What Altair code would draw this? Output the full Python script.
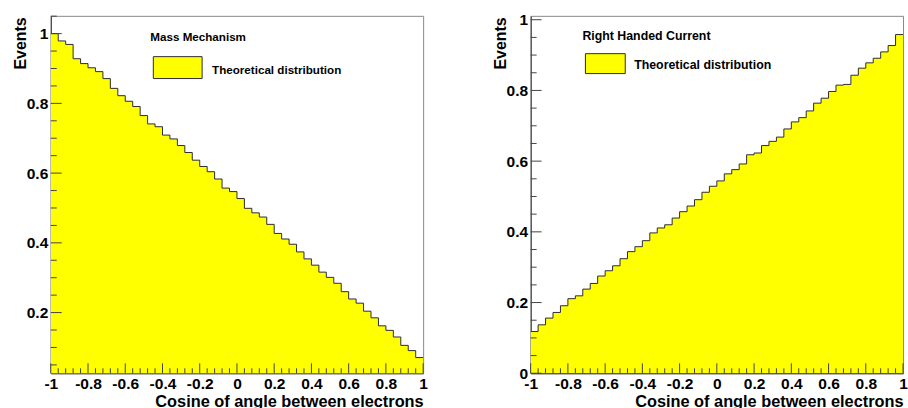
import altair as alt
import pandas as pd

# ---------------- data ----------------
N_BINS = 50
X_MIN, X_MAX = -1.0, 1.0

mass_mechanism = [1.000, 0.979, 0.969, 0.928, 0.914, 0.902, 0.891, 0.871, 0.843, 0.822,
                  0.806, 0.791, 0.765, 0.741, 0.733, 0.709, 0.698, 0.679, 0.659, 0.637,
                  0.619, 0.604, 0.583, 0.557, 0.547, 0.527, 0.499, 0.486, 0.474, 0.453,
                  0.427, 0.411, 0.396, 0.374, 0.354, 0.336, 0.316, 0.301, 0.284, 0.260,
                  0.239, 0.227, 0.204, 0.185, 0.162, 0.149, 0.130, 0.106, 0.091, 0.071]

right_handed = [0.118, 0.137, 0.156, 0.172, 0.191, 0.211, 0.219, 0.238, 0.254, 0.275,
                0.290, 0.304, 0.324, 0.344, 0.358, 0.375, 0.397, 0.411, 0.420, 0.439,
                0.457, 0.473, 0.491, 0.512, 0.529, 0.544, 0.564, 0.576, 0.592, 0.618,
                0.623, 0.644, 0.656, 0.668, 0.691, 0.711, 0.723, 0.742, 0.764, 0.778,
                0.797, 0.815, 0.817, 0.843, 0.863, 0.878, 0.891, 0.909, 0.927, 0.958]

x_major = [-1, -0.8, -0.6, -0.4, -0.2, 0, 0.2, 0.4, 0.6, 0.8, 1]
x_minor = [round(-1 + 0.04 * i, 2) for i in range(51) if i % 5 != 0]

y_major_left = [0.2, 0.4, 0.6, 0.8, 1]
y_major_right = [0, 0.2, 0.4, 0.6, 0.8, 1]
y_minor_all = [round(0.05 * i, 2) for i in range(1, 22) if i % 4 != 0]

y_domain_left = [0.026, 1.051]
y_domain_right = [0.0, 1.011]

titles = ["Mass Mechanism", "Right Handed Current"]
legend_label = "Theoretical distribution"
x_title = "Cosine of angle between electrons"
y_title = "Events"

# ---------------- style ----------------
W, H = 374, 359
FONT = "Liberation Sans"
YELLOW = "#ffff00"
LINE = "#2b2b33"
TICK = "#444444"


def panel(values, y_domain, y_major, legend_pos, legend_size, anchor=False):
    edges = [round(X_MIN + i * (X_MAX - X_MIN) / N_BINS, 4) for i in range(N_BINS + 1)]
    df = pd.DataFrame({"x": edges, "y": list(values) + [values[-1]]})
    xs = alt.Scale(domain=[X_MIN, X_MAX], nice=False, zero=False)
    ys = alt.Scale(domain=y_domain, nice=False, zero=False)

    x_axis = alt.Axis(
        values=x_major, labelExpr="'' + datum.value", title=x_title,
        titleFont=FONT, titleFontSize=16.4, titleFontWeight="bold", titleColor="black",
        titleX=W, titleY=33, titleAlign="right", titleBaseline="alphabetic", titleAnchor="end",
        ticks=False, grid=False, domain=True, domainColor="#333333",
        labelFont=FONT, labelFontSize=15.6, labelFontWeight="bold", labelColor="black",
        labelPadding=3, labelFlush=False, labelOverlap=False,
    )
    y_axis = alt.Axis(
        values=y_major, labelExpr="'' + datum.value", title=y_title,
        titleFont=FONT, titleFontSize=16, titleFontWeight="bold", titleColor="black",
        titleX=-30, titleY=1, titleAngle=270, titleAlign="right", titleBaseline="middle",
        ticks=False, grid=False, domain=True, domainColor="#333333",
        labelFont=FONT, labelFontSize=15.6, labelFontWeight="bold", labelColor="black",
        labelPadding=3, labelOverlap=False,
    )

    base = alt.Chart(df)
    area = base.mark_area(interpolate="step-after", color=YELLOW, clip=True).encode(
        x=alt.X("x:Q", scale=xs, axis=x_axis),
        y=alt.Y("y:Q", scale=ys, axis=y_axis),
    )
    line = base.mark_line(interpolate="step-after", color=LINE, strokeWidth=1, clip=True).encode(
        x=alt.X("x:Q", scale=xs, axis=x_axis),
        y=alt.Y("y:Q", scale=ys, axis=y_axis),
    )

    xt_major = alt.Chart(pd.DataFrame({"x": x_major})).mark_rule(color=TICK, strokeWidth=1).encode(
        x=alt.X("x:Q", scale=xs, axis=x_axis), y=alt.value(H), y2=alt.value(H - 10))
    xt_minor = alt.Chart(pd.DataFrame({"x": x_minor})).mark_rule(color=TICK, strokeWidth=1).encode(
        x=alt.X("x:Q", scale=xs, axis=x_axis), y=alt.value(H), y2=alt.value(H - 5))
    ym = [v for v in y_major if y_domain[0] <= v <= y_domain[1]]
    yn = [v for v in y_minor_all if y_domain[0] <= v <= y_domain[1]]
    yt_major = alt.Chart(pd.DataFrame({"y": ym})).mark_rule(color=TICK, strokeWidth=1).encode(
        y=alt.Y("y:Q", scale=ys, axis=y_axis), x=alt.value(0), x2=alt.value(11))
    yt_minor = alt.Chart(pd.DataFrame({"y": yn})).mark_rule(color=TICK, strokeWidth=1).encode(
        y=alt.Y("y:Q", scale=ys, axis=y_axis), x=alt.value(0), x2=alt.value(6))

    (tx, ty, title_txt), (rx1, rx2, ry1, ry2), (lx, ly) = legend_pos
    one = pd.DataFrame({"a": [0]})
    title_mark = alt.Chart(one).mark_text(
        align="left", baseline="middle", font=FONT, fontWeight="bold",
        fontSize=legend_size, color="black").encode(
        x=alt.value(tx), y=alt.value(ty), text=alt.value(title_txt))
    leg_rect = alt.Chart(one).mark_rect(fill=YELLOW, stroke=LINE, strokeWidth=1).encode(
        x=alt.value(rx1), x2=alt.value(rx2), y=alt.value(ry1), y2=alt.value(ry2))
    leg_text = alt.Chart(one).mark_text(
        align="left", baseline="middle", font=FONT, fontWeight="bold",
        fontSize=legend_size, color="black").encode(
        x=alt.value(lx), y=alt.value(ly), text=alt.value(legend_label))

    layers = [area, line, xt_major, xt_minor, yt_major, yt_minor, title_mark, leg_rect, leg_text]
    if anchor:
        # invisible anchor fixing the outer margin of the page
        layers.append(alt.Chart(one).mark_rect(opacity=0).encode(
            x=alt.value(-50), x2=alt.value(-49), y=alt.value(-14), y2=alt.value(-13)))
    return alt.layer(*layers).properties(width=W, height=H)


left = panel(mass_mechanism, y_domain_left, y_major_left,
             ((100, 21, titles[0]), (103, 152, 41, 63), (162, 54)), 11.7, anchor=True)
right = panel(right_handed, y_domain_right, y_major_right,
              ((52, 20, titles[1]), (55, 95, 38, 58), (104, 49)), 12.4)

chart = alt.hconcat(left, right, spacing=108, bounds="flush").configure(
    padding=0, background="white"
).configure_view(stroke="#888888", strokeWidth=1)

chart.save("out.html", embed_options={"renderer": "svg", "actions": False})
